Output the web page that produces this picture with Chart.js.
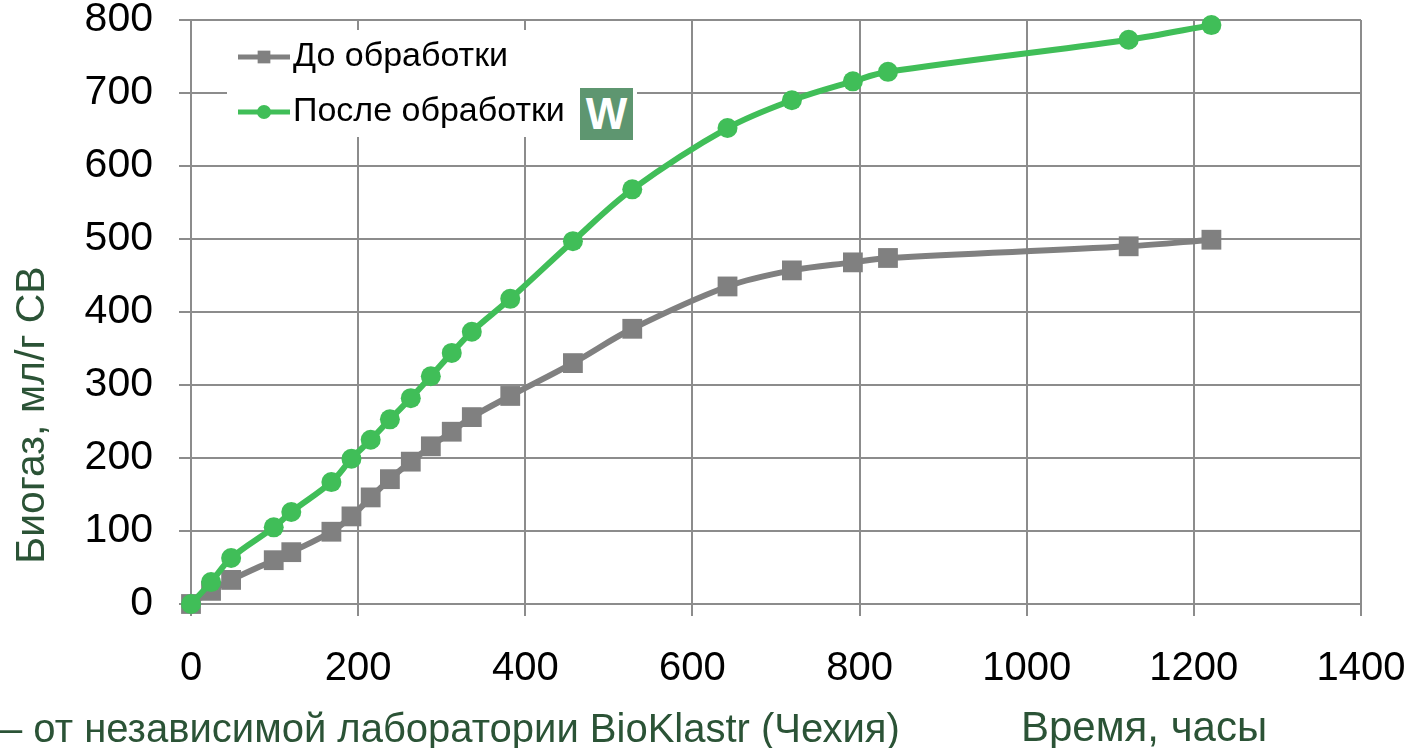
<!DOCTYPE html>
<html>
<head>
<meta charset="utf-8">
<script src="https://cdn.jsdelivr.net/npm/chart.js@4"></script>
<style>
    body { margin: 0; background: #fff; overflow: hidden; }
    #caixa { position: relative; width: 1416px; height: 748px; }
    .rodape { position: absolute; font-family: "Liberation Sans", Arial, sans-serif; line-height: 44px; color: #2b5336; white-space: nowrap; }
    #selo { position: absolute; left: 580px; top: 88px; width: 53px; height: 52px; background: #5e9670; color: #fff; font: bold 44px "Liberation Sans", Arial, sans-serif; text-align: center; line-height: 52px; }
</style>
</head>
<body>
<div id="caixa">
    <canvas id="grafico" width="1416" height="748"></canvas>
    <div id="selo">W</div>
    <div class="rodape" style="left:0px; top:706px; font-size:40px;">– от независимой лаборатории BioKlastr (Чехия)</div>
    <div class="rodape" style="left:1021px; top:705px; font-size:42px;">Время, часы</div>
</div>
<script>
// dados (horas x biogás)
const horas = [0, 24, 48, 99, 120, 168, 192, 215, 238, 263, 287, 312, 336, 382, 457, 528, 642, 719, 792, 834, 1122, 1221];
const antes = [0, 18, 33, 60, 71, 99, 120, 146, 171, 195, 216, 236, 256, 285, 330, 377, 435, 457, 468, 474, 490, 499];
const depois = [0, 30, 63, 105, 126, 167, 199, 225, 253, 282, 312, 344, 373, 418, 497, 568, 652, 690, 716, 729, 773, 793];

const nomes = ['До обработки', 'После обработки'];
const tituloY = 'Биогаз, мл/г СВ';
const ticksX = [0, 200, 400, 600, 800, 1000, 1200, 1400];
const ticksY = [0, 100, 200, 300, 400, 500, 600, 700, 800];

const CINZA = '#808080';
const VERDE = '#40be58';
const GRADE = '#8c8c8c';
const FONTE = '"Liberation Sans", Arial, sans-serif';

function pontos(valores) {
    return horas.map((h, i) => ({ x: h, y: valores[i] }));
}

// legenda dentro da área do gráfico (linha + marcador) e título do eixo Y
const legendaDentro = {
    id: 'legendaDentro',
    afterDraw(chart) {
        const ctx = chart.ctx;
        const area = chart.chartArea;
        ctx.save();
        ctx.fillStyle = '#fff';
        ctx.fillRect(area.left + 36, area.top + 10, 410, 107);
        chart.data.datasets.forEach((ds, i) => {
            const y = area.top + 37 + i * 55;
            const x0 = area.left + 47;
            ctx.strokeStyle = ds.borderColor;
            ctx.lineWidth = 5;
            ctx.beginPath();
            ctx.moveTo(x0, y);
            ctx.lineTo(x0 + 52, y);
            ctx.stroke();
            ctx.fillStyle = ds.backgroundColor;
            Chart.helpers.drawPoint(ctx, {
                pointStyle: ds.pointStyle,
                radius: ds.pointStyle === 'rect' ? 9 : 7,
                rotation: 0,
                borderWidth: 0
            }, x0 + 26, y);
            ctx.fillStyle = '#000';
            ctx.font = '34px ' + FONTE;
            ctx.textBaseline = 'middle';
            ctx.textAlign = 'left';
            ctx.fillText(ds.label, x0 + 55, y);
        });

        // título do eixo Y, um pouco abaixo do centro como no original
        ctx.translate(33, area.top + 395);
        ctx.rotate(-Math.PI / 2);
        ctx.fillStyle = '#2b5336';
        ctx.font = '41px ' + FONTE;
        ctx.textAlign = 'center';
        ctx.textBaseline = 'middle';
        ctx.fillText(tituloY, 0, 0);
        ctx.restore();
    }
};

new Chart(document.getElementById('grafico'), {
    type: 'line',
    data: {
        datasets: [
            {
                label: nomes[0],
                data: pontos(antes),
                borderColor: CINZA,
                backgroundColor: CINZA,
                borderWidth: 6,
                pointStyle: 'rect',
                pointRadius: 14,
                pointBorderWidth: 0,
                tension: 0.35,
                clip: false,
                order: 1
            },
            {
                label: nomes[1],
                data: pontos(depois),
                borderColor: VERDE,
                backgroundColor: VERDE,
                borderWidth: 6,
                pointStyle: 'circle',
                pointRadius: 10,
                pointBorderWidth: 0,
                tension: 0.35,
                clip: false,
                order: 0
            }
        ]
    },
    options: {
        responsive: false,
        devicePixelRatio: 1,
        animation: false,
        layout: { padding: { top: 20, right: 55, left: 0, bottom: 0 } },
        plugins: {
            legend: { display: false },
            tooltip: { enabled: false }
        },
        scales: {
            x: {
                type: 'linear',
                min: 0,
                max: 1400,
                afterBuildTicks: (escala) => { escala.ticks = ticksX.map(v => ({ value: v })); },
                afterFit: (escala) => {
                    escala.height = 144;
                    escala.paddingLeft = 0;
                    escala.paddingRight = 0;
                },
                grid: { color: GRADE, lineWidth: 2, tickLength: 12 },
                border: { color: GRADE, width: 2 },
                ticks: {
                    color: '#000',
                    padding: 33,
                    maxRotation: 0,
                    callback: (v) => String(v),
                    font: { family: FONTE, size: 40, lineHeight: 1 }
                }
            },
            y: {
                min: 0,
                max: 800,
                afterBuildTicks: (escala) => { escala.ticks = ticksY.map(v => ({ value: v })); },
                afterFit: (escala) => {
                    escala.width = 191;
                    escala.paddingTop = 0;
                    escala.paddingBottom = 0;
                },
                grid: { color: GRADE, lineWidth: 2, tickLength: 12 },
                border: { color: GRADE, width: 2 },
                ticks: {
                    color: '#000',
                    padding: 26,
                    callback: (v) => String(v),
                    font: { family: FONTE, size: 41, lineHeight: 1 }
                }
            }
        }
    },
    plugins: [legendaDentro]
});
</script>
</body>
</html>
